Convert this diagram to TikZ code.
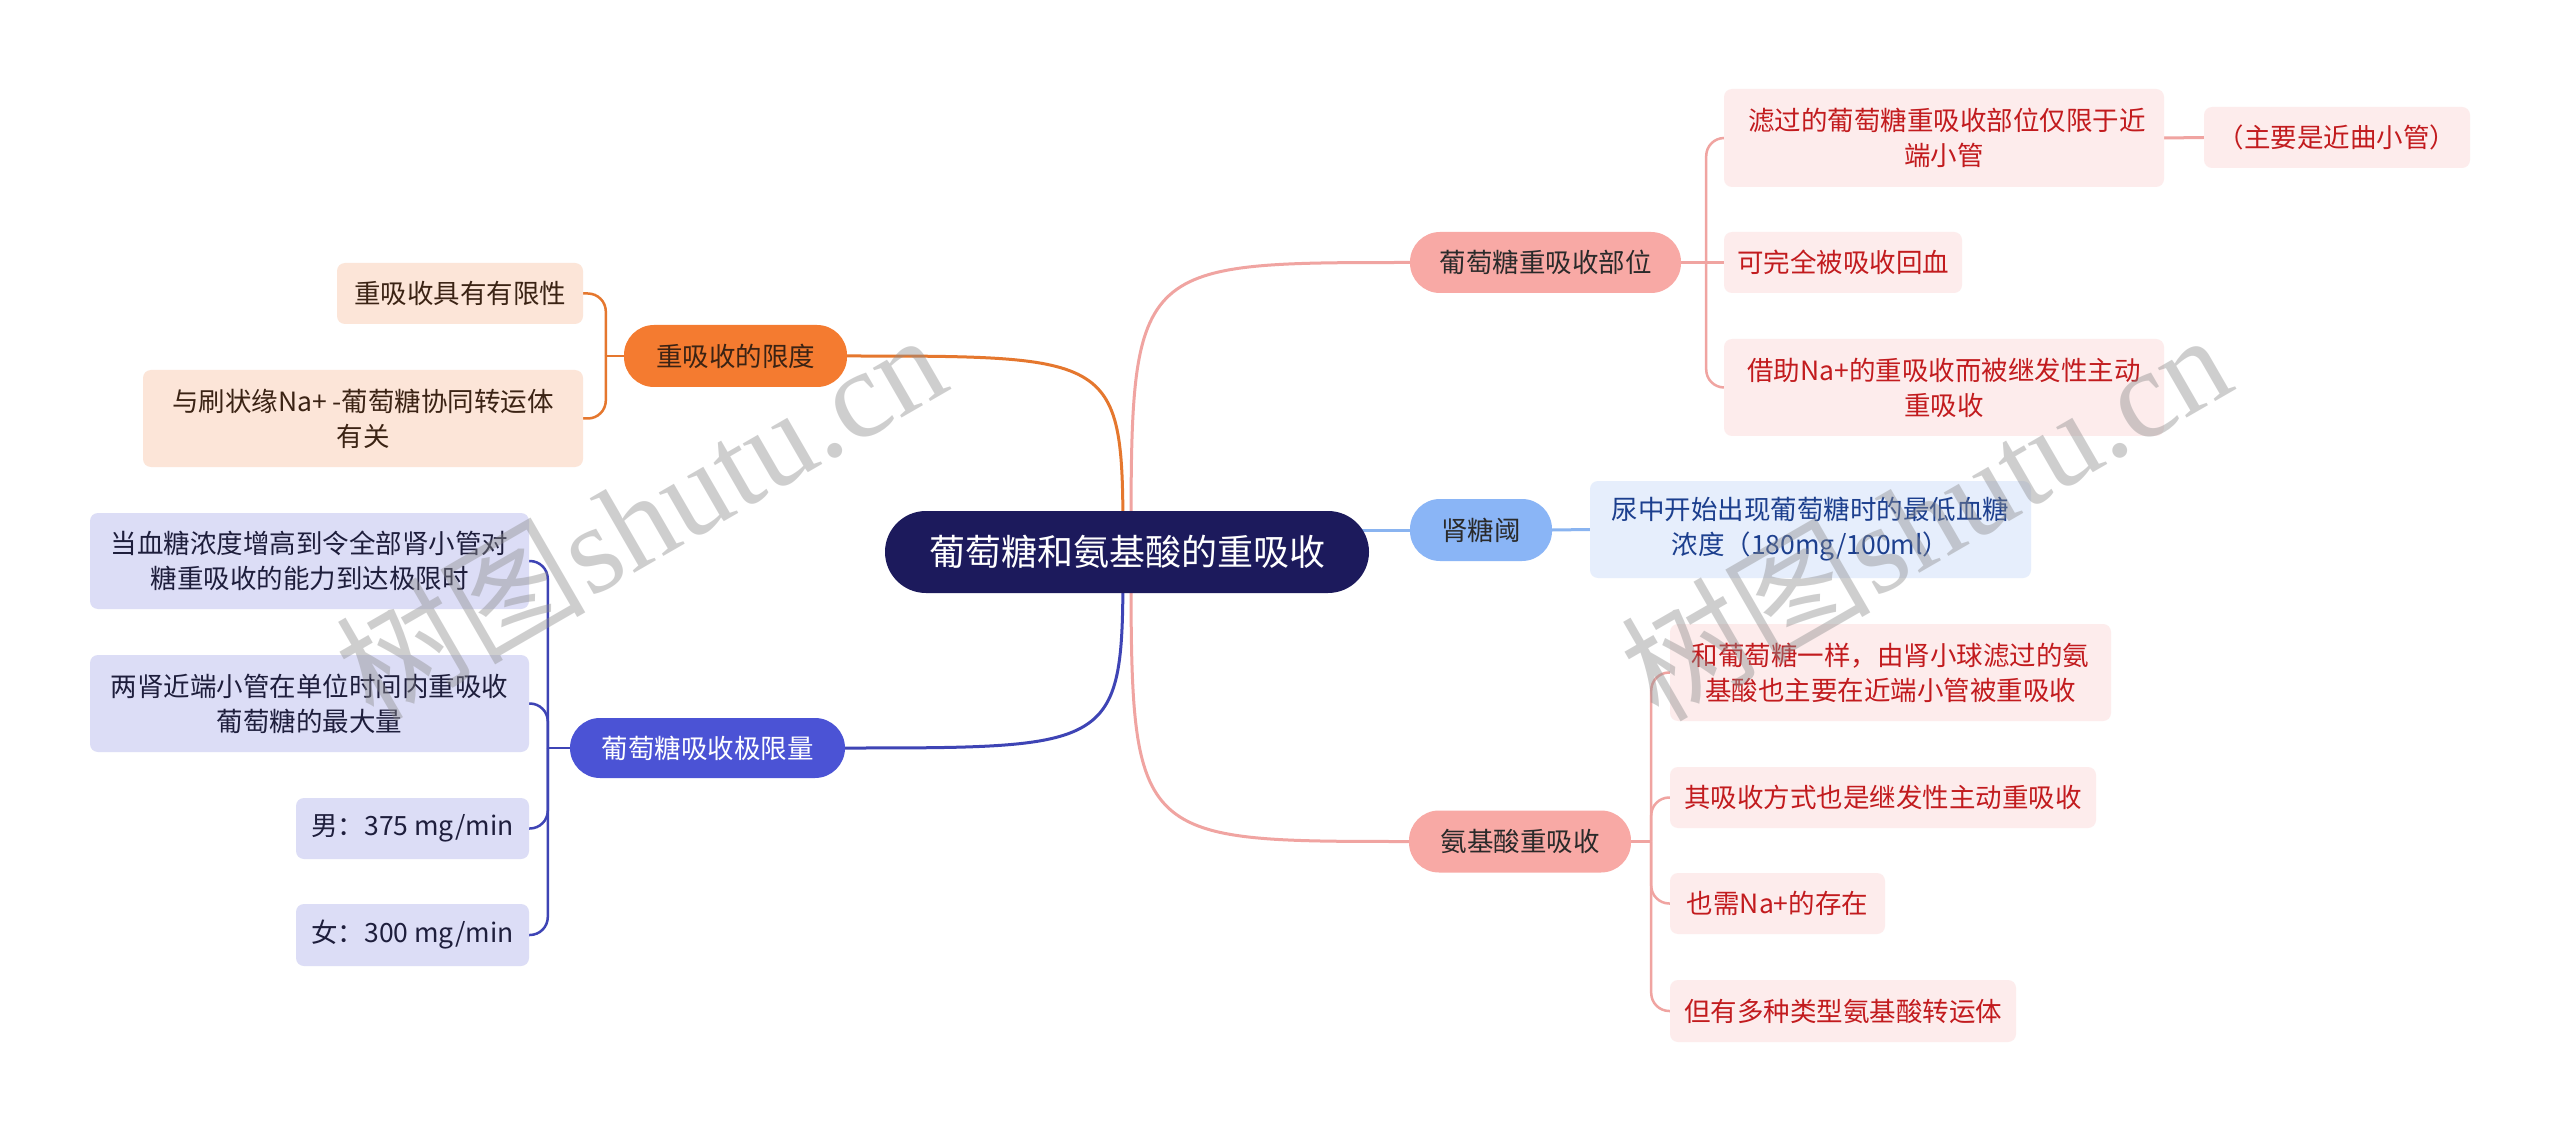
\documentclass[tikz,border=0pt]{standalone}
\usepackage{fontspec}
\setmainfont{Noto Sans CJK SC}
\newfontfamily\wmserif{Liberation Serif}
\usetikzlibrary{backgrounds,calc}
\definecolor{rootc}{HTML}{1C1A5C}
\definecolor{orgc}{HTML}{F47B30}
\definecolor{orgleafc}{HTML}{FCE5D8}
\definecolor{orgtext}{HTML}{3B2314}
\definecolor{orgln}{HTML}{E5772E}
\definecolor{bluec}{HTML}{4B53D5}
\definecolor{blueleafc}{HTML}{DCDDF6}
\definecolor{bluetext}{HTML}{1E1E3C}
\definecolor{blueln}{HTML}{3E44B5}
\definecolor{pinkc}{HTML}{F8A9A5}
\definecolor{pinkleafc}{HTML}{FDECEC}
\definecolor{pinktext}{HTML}{C21B1E}
\definecolor{pinkln}{HTML}{F0A4A1}
\definecolor{skyc}{HTML}{8AB5F6}
\definecolor{skyleafc}{HTML}{E6EEFC}
\definecolor{skytext}{HTML}{1C3F8E}
\definecolor{skyln}{HTML}{8AB4F0}
\definecolor{darktext}{HTML}{2A2A2A}
\begin{document}
\begin{tikzpicture}[x=1pt,y=-1pt,
  base/.style={align=center, inner sep=0pt, font=\fontsize{26.5pt}{35pt}\selectfont},
  rootnode/.style={base, fill=rootc, text=white, rounded corners=41pt, font=\fontsize{36pt}{44pt}\selectfont},
  mainpill/.style={base, rounded corners=30pt},
  leafbox/.style={base, rounded corners=8pt},
  orgmain/.style={mainpill, fill=orgc, text=orgtext},
  orgleaf/.style={leafbox, fill=orgleafc, text=orgtext},
  bluemain/.style={mainpill, fill=bluec, text=white},
  blueleaf/.style={leafbox, fill=blueleafc, text=bluetext},
  pinkmain/.style={mainpill, fill=pinkc, text=darktext},
  pinkleaf/.style={leafbox, fill=pinkleafc, text=pinktext},
  skymain/.style={mainpill, fill=skyc, text=darktext},
  skyleaf/.style={leafbox, fill=skyleafc, text=skytext},
  mainline/.style={line width=3pt},
  brace/.style={line width=2.5pt, rounded corners=18pt},
  sz/.style 2 args={minimum width=#1pt, minimum height=#2pt}
]
\useasboundingbox (0,0) rectangle (2560,1131);

% root
\node[rootnode, sz={484}{82}] (root) at (1127,552) {葡萄糖和氨基酸的重吸收};

% orange branch
\node[orgmain, sz={223}{62}] (L) at (735.5,356) {重吸收的限度};
\node[orgleaf, sz={246}{61}] (L1) at (460,293.5) {重吸收具有有限性};
\node[orgleaf, sz={440}{97}] (L2) at (363,418.5) {与刷状缘Na+ -葡萄糖协同转运体\\有关};

% blue branch
\node[bluemain, sz={275}{60}] (B) at (707.5,748) {葡萄糖吸收极限量};
\node[blueleaf, sz={439}{96}] (B1) at (309.5,561) {当血糖浓度增高到令全部肾小管对\\糖重吸收的能力到达极限时};
\node[blueleaf, sz={439}{97}] (B2) at (309.5,703.5) {两肾近端小管在单位时间内重吸收\\葡萄糖的最大量};
\node[blueleaf, sz={233}{61}] (B3) at (412.5,828.5) {男：375 mg/min};
\node[blueleaf, sz={233}{62}] (B4) at (412.5,935) {女：300 mg/min};

% pink branch top
\node[pinkmain, sz={271}{61}] (G) at (1545.5,262.5) {葡萄糖重吸收部位};
\node[pinkleaf, sz={440}{98}] (G1) at (1944,138) {\ 滤过的葡萄糖重吸收部位仅限于近\\端小管};
\node[pinkleaf, sz={266}{61}] (G1a) at (2337,137.5) {（主要是近曲小管）};
\node[pinkleaf, sz={238}{61}] (G2) at (1843,262.5) {可完全被吸收回血};
\node[pinkleaf, sz={440}{97}] (G3) at (1944,387.5) {借助Na+的重吸收而被继发性主动\\重吸收};

% sky branch
\node[skymain, sz={142}{62}] (T) at (1481,530) {肾糖阈};
\node[skyleaf, sz={441}{97}] (T1) at (1810.5,529.5) {尿中开始出现葡萄糖时的最低血糖\\浓度（180mg/100ml）};

% pink branch bottom
\node[pinkmain, sz={222}{62}] (A) at (1520,841.5) {氨基酸重吸收};
\node[pinkleaf, sz={441}{97}] (A1) at (1890.5,672.5) {和葡萄糖一样，由肾小球滤过的氨\\基酸也主要在近端小管被重吸收};
\node[pinkleaf, sz={426}{61}] (A2) at (1883,797.5) {其吸收方式也是继发性主动重吸收};
\node[pinkleaf, sz={215}{61}] (A3) at (1777.5,903.5) {也需Na+的存在};
\node[pinkleaf, sz={346}{62}] (A4) at (1843,1011) {但有多种类型氨基酸转运体};

\begin{pgfonlayer}{background}
  \fill[white] (0,0) rectangle (2560,1131);
  % main connectors
  \draw[mainline, orgln] ([xshift=-4pt]root.center) .. controls ([xshift=-4pt]root.center |- L.east) .. (L.east);
  \draw[mainline, blueln] ([xshift=-4pt]root.center) .. controls ([xshift=-4pt]root.center |- B.east) .. (B.east);
  \draw[mainline, pinkln] ([xshift=4pt]root.center) .. controls ([xshift=4pt]root.center |- G.west) .. (G.west);
  \draw[mainline, pinkln] ([xshift=4pt]root.center) .. controls ([xshift=4pt]root.center |- A.west) .. (A.west);
  \draw[mainline, skyln] (root.center |- T.west) -- (T.west);
  \draw[mainline, skyln] (T.east) -- (T1.west);
  \draw[mainline, pinkln] (G1.east) -- (G1a.west);

  % orange brace
  \draw[brace, orgln] (L.west) -- ([xshift=-18pt]L.west);
  \draw[brace, orgln] ([xshift=-18pt]L.west) |- (L1.east);
  \draw[brace, orgln] ([xshift=-18pt]L.west) |- (L2.east);
  % blue brace
  \draw[brace, blueln] (B.west) -- ([xshift=-22pt]B.west);
  \draw[brace, blueln] ([xshift=-22pt]B.west) |- (B1.east);
  \draw[brace, blueln] ([xshift=-22pt]B.west) |- (B2.east);
  \draw[brace, blueln] ([xshift=-22pt]B.west) |- (B3.east);
  \draw[brace, blueln] ([xshift=-22pt]B.west) |- (B4.east);
  % pink top brace
  \draw[brace, pinkln] (G.east) -- (G2.west);
  \draw[brace, pinkln] ([xshift=25pt]G.east) |- (G1.west);
  \draw[brace, pinkln] ([xshift=25pt]G.east) |- (G3.west);
  % pink bottom brace
  \draw[brace, pinkln] (A.east) -- ([xshift=20pt]A.east);
  \draw[brace, pinkln] ([xshift=20pt]A.east) |- (A1.west);
  \draw[brace, pinkln] ([xshift=20pt]A.east) |- (A2.west);
  \draw[brace, pinkln] ([xshift=20pt]A.east) |- (A3.west);
  \draw[brace, pinkln] ([xshift=20pt]A.east) |- (A4.west);
\end{pgfonlayer}

% watermarks
\node[rotate=30, text=black!45, opacity=0.42, inner sep=0pt, font=\fontsize{125pt}{125pt}\selectfont] (wm1) at (640,515) {树图\wmserif shutu.cn};
\node[rotate=30, text=black!45, opacity=0.42, inner sep=0pt, font=\fontsize{125pt}{125pt}\selectfont] (wm2) at (1925,515) {树图\wmserif shutu.cn};
\end{tikzpicture}
\end{document}
